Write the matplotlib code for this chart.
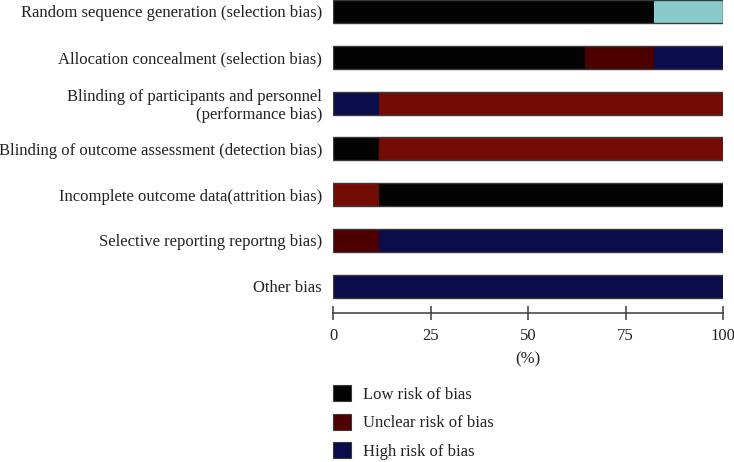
import matplotlib
matplotlib.use("Agg")
import matplotlib.pyplot as plt
from matplotlib.patches import Patch

plt.rcParams['font.family'] = ['Liberation Serif', 'DejaVu Serif']

# domains, top to bottom
categories = [
    "Random sequence generation (selection bias)",
    "Allocation concealment (selection bias)",
    "Blinding of participants and personnel\n(performance bias)",
    "Blinding of outcome assessment (detection bias)",
    "Incomplete outcome data(attrition bias)",
    "Selective reporting reportng bias)",
    "Other bias",
]

# percent of studies per segment, left to right
seg_values = [
    [82.4, 17.6],
    [64.7, 17.6, 17.6],
    [11.8, 88.2],
    [11.8, 88.2],
    [11.8, 88.2],
    [11.8, 88.2],
    [100.0],
]
seg_colors = [
    ["low", "teal"],
    ["low", "unclear", "high"],
    ["high", "red"],
    ["low", "red"],
    ["red", "low"],
    ["unclear", "high"],
    ["high"],
]

legend_labels = ["Low risk of bias", "Unclear risk of bias", "High risk of bias"]
legend_keys = ["low", "unclear", "high"]
xticks = [0, 25, 50, 75, 100]

palette = {
    "low": "#030303",
    "unclear": "#4c0000",
    "high": "#0a0c4c",
    "red": "#730c05",
    "teal": "#88cbca",
}
edge = "#3a3a3a"
txt = "#222222"
fs = 12

W, H = 734, 462
fig = plt.figure(figsize=(W / 100, H / 100), dpi=100)
ax = fig.add_axes([333 / W, (H - 313) / H, 390 / W, 313 / H])

for i, (vals, cols) in enumerate(zip(seg_values, seg_colors)):
    left = 0
    for v, c in zip(vals, cols):
        ax.barh(i, v, left=left, height=0.5, color=palette[c], linewidth=0)
        left += v
    ax.barh(i, left, height=0.5, fill=False, edgecolor=edge, linewidth=1.0)

ax.set_xlim(0, 100)
ax.set_ylim(6.583, -0.251)
ax.set_yticks(range(len(categories)))
ax.set_yticklabels(categories, fontsize=fs, color=txt, multialignment="right")
ax.tick_params(axis="y", length=0, pad=8)
ax.set_xticks(xticks)
ax.set_xticklabels([str(t) for t in xticks], fontsize=fs, color=txt)
ax.tick_params(axis="x", direction="inout", length=10, width=1.1, color=edge, pad=6)
ax.set_xlabel("(%)", fontsize=fs, color=txt, labelpad=5)

for s in ["top", "right", "left"]:
    ax.spines[s].set_visible(False)
ax.spines["bottom"].set_color(edge)
ax.spines["bottom"].set_linewidth(1.1)

handles = [Patch(facecolor=palette[k], edgecolor=edge, linewidth=0.8) for k in legend_keys]
fig.legend(handles, legend_labels, loc="upper left",
           bbox_to_anchor=(333 / W, (H - 385) / H), frameon=False,
           fontsize=fs, handlelength=1.08, handleheight=1.1,
           handletextpad=0.7, labelspacing=0.66, borderpad=0,
           borderaxespad=0, labelcolor=txt)

fig.savefig("out.png", dpi=100)
